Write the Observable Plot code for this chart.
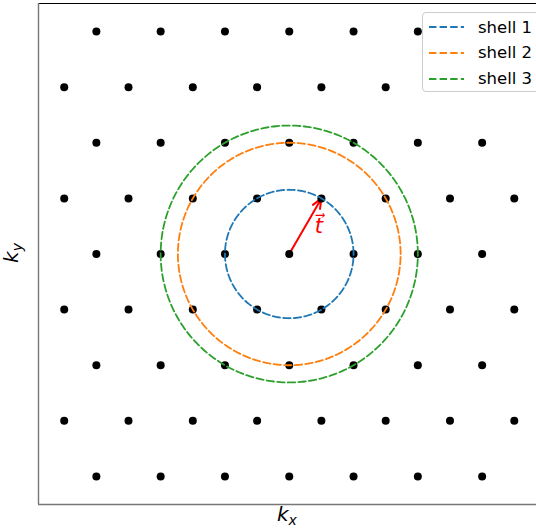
<!DOCTYPE html>
<html>
<head>
<meta charset="utf-8">
<script src="https://cdn.jsdelivr.net/npm/d3@7"></script>
<script src="https://cdn.jsdelivr.net/npm/@observablehq/plot@0.6"></script>
<style>
  html, body { margin: 0; padding: 0; background: #fff; }
  #wrap { position: relative; width: 536px; height: 529px; overflow: hidden; font-family: "DejaVu Sans", sans-serif; }
  #legend { position: absolute; left: 422px; top: 12px; width: 130px; height: 80px; box-sizing: border-box;
            border: 1px solid #cccccc; border-radius: 4px; background: #ffffff; }
  .entry { position: absolute; left: 6px; height: 20px; display: flex; align-items: center; font-size: 16.5px; color: #000; white-space: nowrap; }
  .entry svg { margin-right: 14px; }
  .lab { position: absolute; font-family: "DejaVu Sans", sans-serif; font-style: italic; font-size: 20px; color: #000; }
  .lab sub { font-size: 14px; vertical-align: -4px; }
</style>
</head>
<body>
<div id="wrap"></div>
<script>
// ---- data ----
const rowKy = [3.464, 2.598, 1.732, 0.866, 0, -0.866, -1.732, -2.598, -3.464];
const rowIsOdd = [false, true, false, true, false, true, false, true, false];
const evenRowKx = [-3, -2, -1, 0, 1, 2, 3];
const oddRowKx = [-3.5, -2.5, -1.5, -0.5, 0.5, 1.5, 2.5, 3.5];
const shellNames = ["shell 1", "shell 2", "shell 3"];
const shellRadii = [1, 1.732, 2];
const shellColors = ["#1f77b4", "#ff7f0e", "#2ca02c"];
const tVector = {x1: 0, y1: 0, x2: 0.5, y2: 0.866};
const tLabel = {x: 0.46, y: 0.43, text: "t\u20D7"};
const axisLimits = [-3.9, 3.9];

// ---- tables ----
const points = [];
rowKy.forEach((ky, i) => (rowIsOdd[i] ? oddRowKx : evenRowKx).forEach(kx => points.push({kx, ky})));

const circlePts = [];
shellNames.forEach((name, i) => {
  const r = shellRadii[i];
  for (let k = 0; k <= 360; k++) {
    const a = k * Math.PI / 180;
    circlePts.push({shell: name, x: r * Math.cos(a), y: r * Math.sin(a)});
  }
});

const plot = Plot.plot({
  width: 536,
  height: 529,
  marginTop: 3,
  marginBottom: 25,
  marginLeft: 38,
  marginRight: -3.5,
  x: {domain: axisLimits, axis: null},
  y: {domain: axisLimits, axis: null},
  color: {domain: shellNames, range: shellColors},
  style: {fontFamily: "DejaVu Sans, sans-serif", background: "white"},
  marks: [
    Plot.arrow([tVector], {x1: "x1", y1: "y1", x2: "x2", y2: "y2", stroke: "red", strokeWidth: 2, headLength: 8, headAngle: 45}),
    Plot.dot(points, {x: "kx", y: "ky", r: 4, fill: "black", stroke: "none"}),
    Plot.line(circlePts, {x: "x", y: "y", z: "shell", stroke: "shell", strokeWidth: 1.8, strokeDasharray: "7.4,3.2"}),
    Plot.text([tLabel], {x: "x", y: "y", text: "text", fill: "red", fontSize: 21, fontStyle: "italic", dy: 0}),
    Plot.ruleY([axisLimits[1]], {stroke: "black", strokeWidth: 1}),
    Plot.ruleY([axisLimits[0]], {stroke: "#777", strokeWidth: 1.4}),
    Plot.ruleX([axisLimits[0]], {stroke: "#777", strokeWidth: 1.4})
  ]
});

const wrap = document.getElementById("wrap");
wrap.appendChild(plot);

// legend
const legend = document.createElement("div");
legend.id = "legend";
shellNames.forEach((name, i) => {
  const e = document.createElement("div");
  e.className = "entry";
  e.style.top = (4 + i * 25.8) + "px";
  e.innerHTML = `<svg width="35" height="6"><line x1="0" y1="3" x2="35" y2="3" stroke="${shellColors[i]}" stroke-width="1.8" stroke-dasharray="7.4,3.2"/></svg><span>${name}</span>`;
  legend.appendChild(e);
});
wrap.appendChild(legend);

// axis labels
const xl = document.createElement("div");
xl.className = "lab";
xl.innerHTML = "k<sub>x</sub>";
xl.style.left = "277px"; xl.style.top = "502px";
wrap.appendChild(xl);

const yl = document.createElement("div");
yl.className = "lab";
yl.innerHTML = "k<sub>y</sub>";
yl.style.left = "2px"; yl.style.top = "240px";
yl.style.transform = "rotate(-90deg)";
wrap.appendChild(yl);
</script>
</body>
</html>
